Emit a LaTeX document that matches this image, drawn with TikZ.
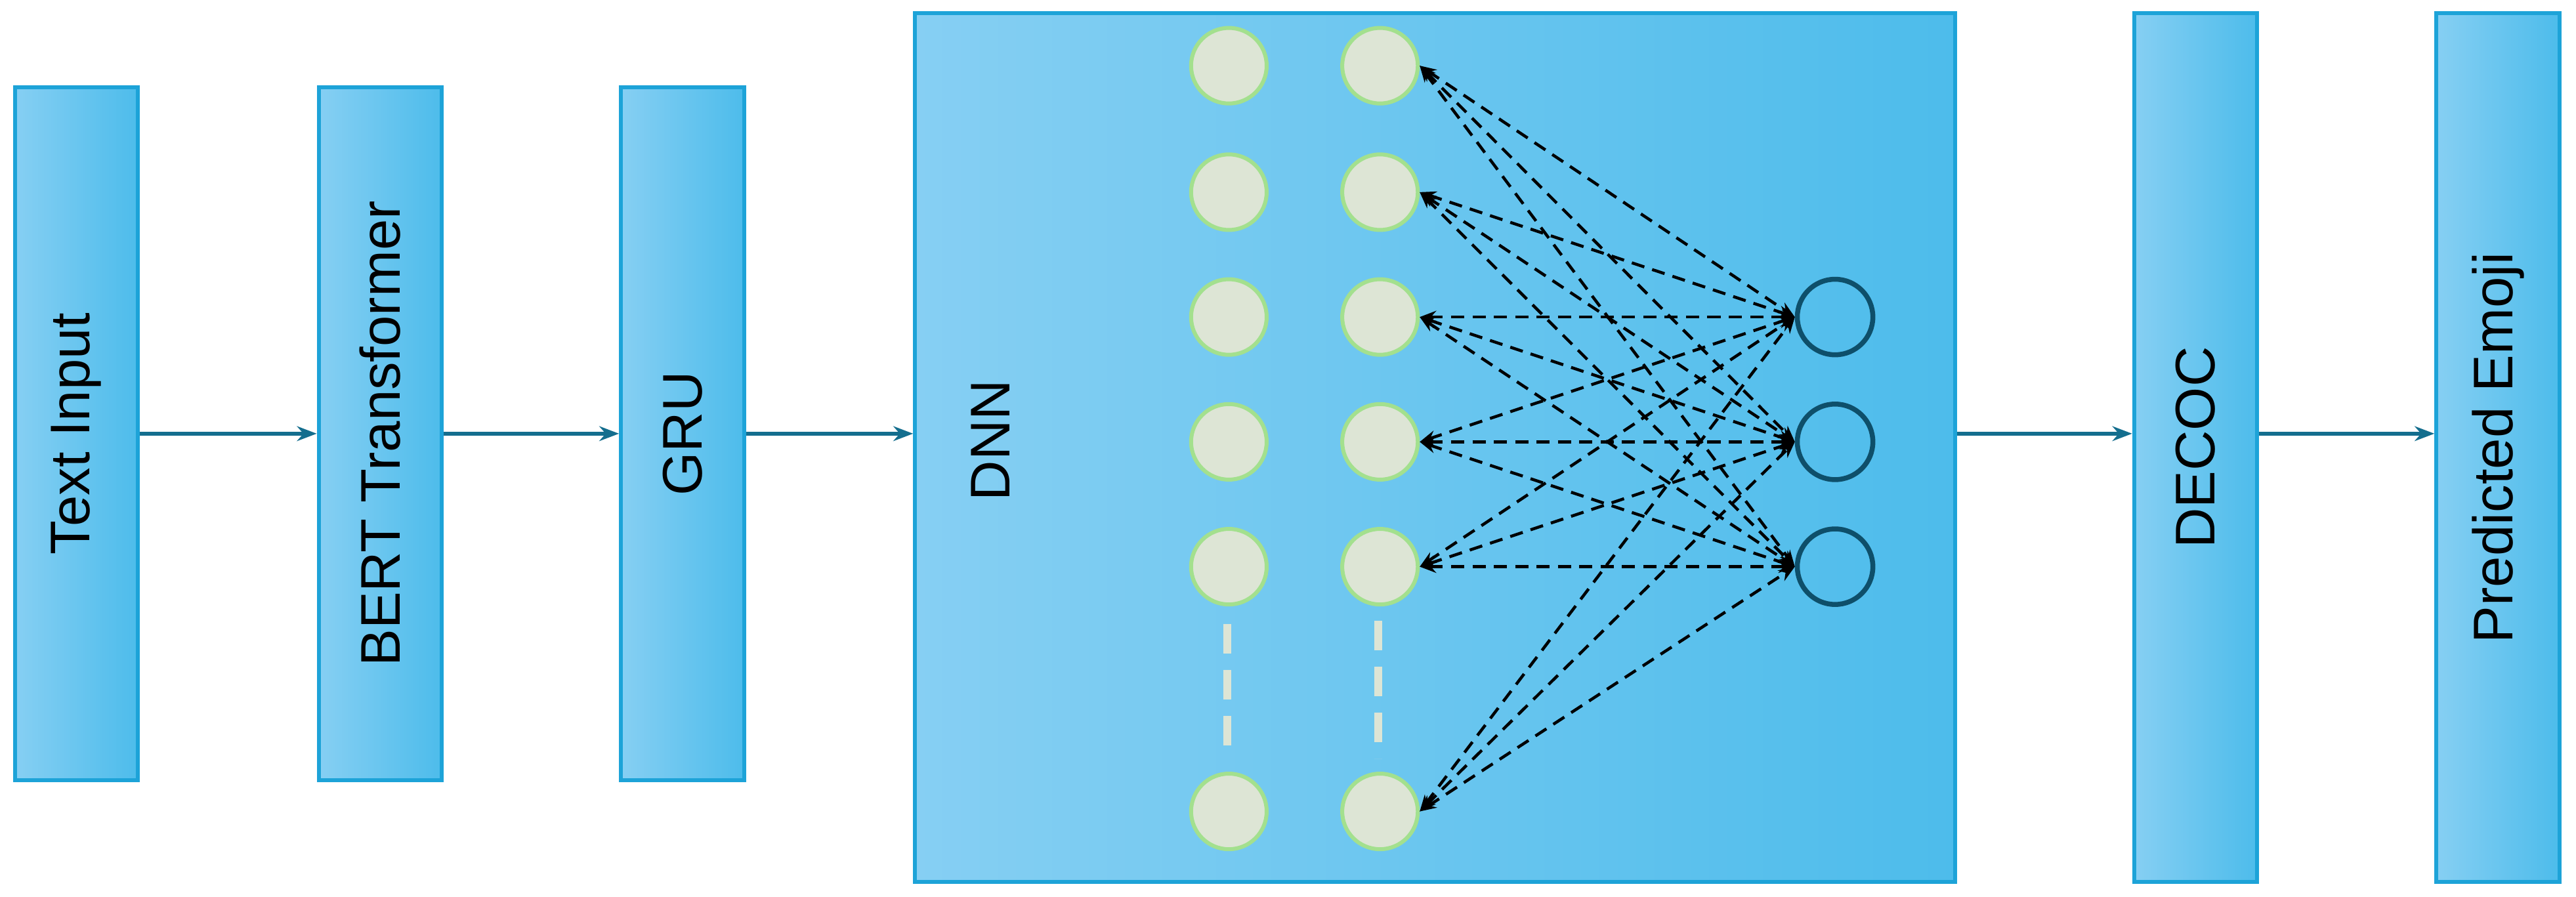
\documentclass[tikz,border=0pt]{standalone}
\usepackage{fontspec}
\setmainfont{Liberation Sans}
\usetikzlibrary{positioning,arrows.meta}
\definecolor{boxl}{HTML}{86CFF3}
\definecolor{boxr}{HTML}{4DBCEB}
\definecolor{boxd}{HTML}{1DA3D8}
\definecolor{flow}{HTML}{146E8E}
\definecolor{unitf}{HTML}{DDE5D5}
\definecolor{unitd}{HTML}{A3E08E}
\definecolor{outd}{HTML}{0E4F6A}
\tikzset{block/.style={rectangle, draw=boxd, line width=1.2pt, left color=boxl, right color=boxr, minimum width=37.5pt, minimum height=211pt, inner sep=0pt},
tall/.style={block, minimum height=264.5pt},
lbl/.style={rotate=90, font=\fontsize{17}{20}\selectfont},
unit/.style={circle, fill=unitf, draw=unitd, line width=1.2pt, minimum size=23pt, inner sep=0pt},
outunit/.style={circle, draw=outd, line width=1.5pt, minimum size=23pt, inner sep=0pt},
link/.style={dash pattern=on 4pt off 2.5pt, line width=0.9pt, {Stealth[length=5pt]}-{Stealth[length=5pt]}},
flowarrow/.style={draw=flow, line width=1.2pt, -{Stealth[length=6pt]}}}
\begin{document}
\begin{tikzpicture}[x=0.5pt, y=-0.5pt]
    \useasboundingbox (0,0) rectangle (1568,546);
    \node (textin) [block] at (46.5,264) {};
    \node [lbl] at (textin) {Text Input};
    \node (bert) [block] at (231.5,264) {};
    \node [lbl] at (bert) {BERT Transformer};
    \node (gru) [block] at (415.5,264) {};
    \node [lbl] at (gru) {GRU};
    \node (dnn) [tall, minimum width=316.5pt] at (873.5,272.5) {};
    \node [lbl] at (603,268) {DNN};
    \node (decoc) [tall] at (1336.5,272.5) {};
    \node [lbl] at (decoc) {DECOC};
    \node (emoji) [tall] at (1520.5,272.5) {};
    \node [lbl] at (emoji) {Predicted Emoji};

    % hidden layers
    \foreach \r/\y in {1/40,2/117,3/193,4/269,5/345,6/494} {
        \node (a\r) [unit] at (748,\y) {};
        \node (h\r) [unit] at (840,\y) {};
    }
    \draw [unitf, line width=2.5pt, dash pattern=on 9pt off 5pt] (747,380) -- (747,462);
    \draw [unitf, line width=2.5pt, dash pattern=on 9pt off 5pt] (839,378) -- (839,462);

    % output layer
    \foreach \o/\y in {1/193,2/269,3/345}
        \node (o\o) [outunit] at (1117,\y) {};

    \foreach \o in {1,2,3}
        \foreach \r in {1,...,6}
            \draw [link] (h\r.east) -- (o\o.west);

    \draw [flowarrow] (textin) -- (bert);
    \draw [flowarrow] (bert) -- (gru);
    \draw [flowarrow] (gru.east) -- (gru.east -| dnn.west);
    \draw [flowarrow] (dnn.east |- gru.east) -- (decoc.west |- gru.east);
    \draw [flowarrow] (decoc.east |- gru.east) -- (emoji.west |- gru.east);
\end{tikzpicture}
\end{document}
